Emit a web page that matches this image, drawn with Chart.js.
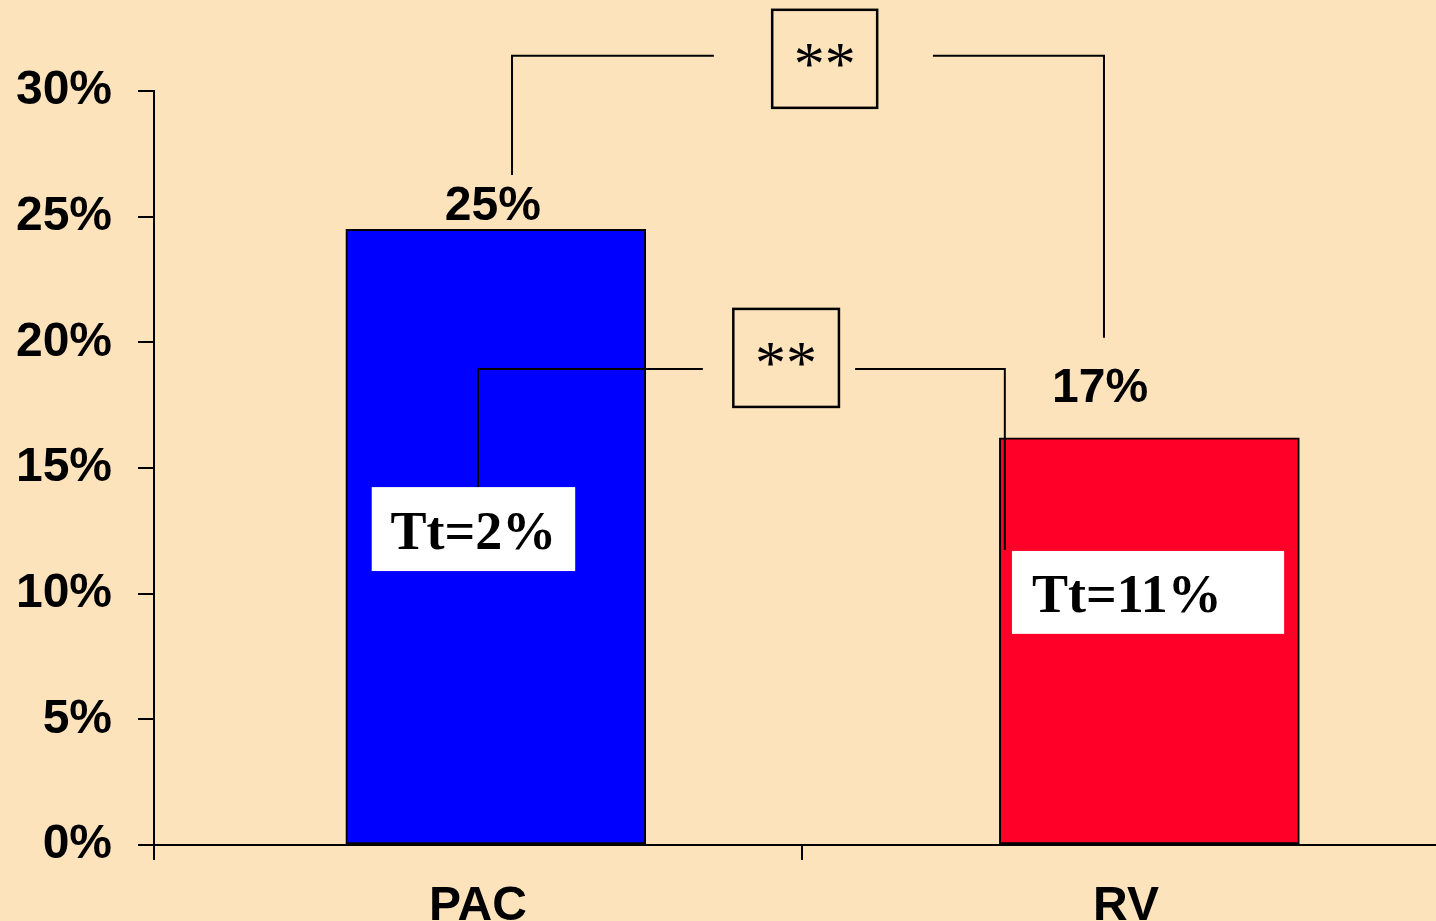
<!DOCTYPE html>
<html>
<head>
<meta charset="utf-8">
<script src="https://cdn.jsdelivr.net/npm/chart.js@4.4.1/dist/chart.umd.min.js"></script>
<style>
  html, body { margin: 0; padding: 0; background: #fde3bc; overflow: hidden; }
  #wrap { width: 1450px; height: 940px; }
</style>
</head>
<body>
<div id="wrap"><canvas id="chart"></canvas></div>
<script>
// data
const categories = ['PAC', 'RV'];
const values = [24.5, 16.2];
const valueLabels = ['25%', '17%'];
const barColors = ['#0000ff', '#ff0028'];
const yTicks = [0, 5, 10, 15, 20, 25, 30];
const ttLabels = ['Tt=2%', 'Tt=11%'];
const sigLabel = '**';

const SANS = '"Liberation Sans", Arial, sans-serif';
const SERIF = '"Liberation Serif", "Times New Roman", serif';

// annotation layout, x in category units, y in axis units
const valueLabelPos = [{x: 0.023, y: 24.87}, {x: 0.96, y: 17.63}];
const brackets = [
  {xL: 0.0525, legL: 26.66, top: 31.4, gapL: 0.364, gapR: 0.702, xR: 0.966, legR: 20.18,
   box: {x0: 0.454, x1: 0.616, y0: 33.23, y1: 29.33}},
  {xL: 0.0, legL: 14.16, top: 18.94, gapL: 0.347, gapR: 0.582, xR: 0.813, legR: 11.74,
   box: {x0: 0.394, x1: 0.557, y0: 21.33, y1: 17.43}},
];
const ttBoxes = [
  {x0: -0.164, x1: 0.150, y0: 14.24, y1: 10.90, align: 'center'},
  {x0: 0.824, x1: 1.244, y0: 11.70, y1: 8.40, align: 'left'},
];

/** Draws brackets, significance boxes, Tt boxes and value labels */
const annotations = {
  id: 'annotations',
  afterDraw(chart) {
    const {ctx, scales: {x, y}} = chart;
    const X = v => x.getPixelForValue(v);
    const Y = v => y.getPixelForValue(v);
    ctx.save();
    ctx.strokeStyle = '#000';
    ctx.fillStyle = '#000';

    brackets.forEach(b => {
      ctx.lineWidth = 2;
      ctx.beginPath();
      ctx.moveTo(X(b.xL), Y(b.legL));
      ctx.lineTo(X(b.xL), Y(b.top));
      ctx.lineTo(X(b.gapL), Y(b.top));
      ctx.moveTo(X(b.gapR), Y(b.top));
      ctx.lineTo(X(b.xR), Y(b.top));
      ctx.lineTo(X(b.xR), Y(b.legR));
      ctx.stroke();

      const bx = X(b.box.x0), by = Y(b.box.y0);
      const bw = X(b.box.x1) - bx, bh = Y(b.box.y1) - by;
      ctx.lineWidth = 2.5;
      ctx.strokeRect(bx, by, bw, bh);
      ctx.font = '62px ' + SERIF;
      ctx.textAlign = 'center';
      ctx.textBaseline = 'alphabetic';
      ctx.fillText(sigLabel, bx + bw / 2, by + bh * 0.76);
    });

    ttBoxes.forEach((t, i) => {
      const bx = X(t.x0), by = Y(t.y0);
      const bw = X(t.x1) - bx, bh = Y(t.y1) - by;
      ctx.fillStyle = '#fff';
      ctx.fillRect(bx, by, bw, bh);
      ctx.fillStyle = '#000';
      ctx.font = 'bold 54px ' + SERIF;
      ctx.textBaseline = 'alphabetic';
      if (t.align === 'center') {
        ctx.textAlign = 'center';
        ctx.fillText(ttLabels[i], bx + bw / 2, by + bh * 0.74);
      } else {
        ctx.textAlign = 'left';
        ctx.fillText(ttLabels[i], bx + 20, by + bh * 0.74);
      }
    });

    ctx.font = 'bold 48px ' + SANS;
    ctx.textAlign = 'center';
    ctx.textBaseline = 'alphabetic';
    valueLabelPos.forEach((p, i) => {
      ctx.fillText(valueLabels[i], X(p.x), Y(p.y));
    });
    ctx.restore();
  }
};

new Chart(document.getElementById('chart'), {
  type: 'bar',
  data: {
    labels: categories,
    datasets: [{
      xAxisID: 'xb',
      data: values.map((v, i) => ({x: i, y: v})),
      backgroundColor: barColors,
      borderColor: '#000',
      borderWidth: 2,
      borderSkipped: false,
      barThickness: 300,
    }],
  },
  options: {
    responsive: true,
    maintainAspectRatio: false,
    animation: false,
    layout: {padding: {top: 91, right: 0, left: 0, bottom: 0}},
    plugins: {legend: {display: false}, tooltip: {enabled: false}},
    scales: {
      x: {
        type: 'category',
        offset: true,
        afterFit: scale => { scale.height = 95; },
        grid: {offset: true, drawOnChartArea: false, drawTicks: true, tickLength: 15, color: '#000', lineWidth: 2},
        border: {display: true, color: '#000', width: 2},
        ticks: {color: '#000', padding: 18, font: {family: SANS, size: 48, weight: 'bold'}},
      },
      // hidden axis the bars sit on (they are drawn a little right of the labels)
      xb: {
        type: 'linear',
        display: false,
        offset: false,
        grid: {offset: false},
        ticks: {stepSize: 1},
        min: -0.523,
        max: 1.46,
      },
      y: {
        min: 0,
        max: 30,
        afterFit: scale => { scale.width = 154; },
        afterBuildTicks: scale => { scale.ticks = yTicks.map(v => ({value: v})); },
        grid: {drawOnChartArea: false, drawTicks: true, tickLength: 16, color: '#000', lineWidth: 2},
        border: {display: true, color: '#000', width: 2},
        ticks: {color: '#000', padding: 26, font: {family: SANS, size: 48, weight: 'bold'},
                callback: v => v + '%'},
      },
    },
  },
  plugins: [annotations],
});
</script>
</body>
</html>
